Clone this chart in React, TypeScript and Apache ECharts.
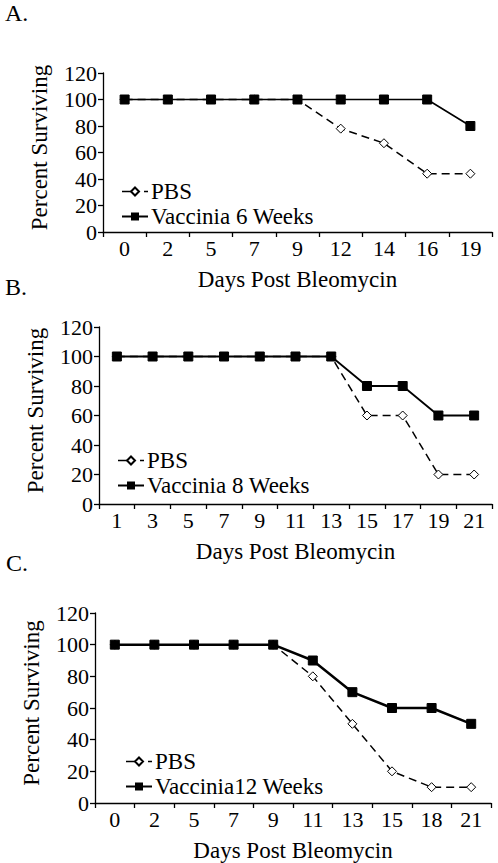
import React, { useEffect, useRef } from "react";
import * as echarts from "echarts";

const daysA = ["0", "2", "5", "7", "9", "12", "14", "16", "19"];
const pbsA = [100, 100, 100, 100, 100, 78, 67, 44, 44];
const vacA = [100, 100, 100, 100, 100, 100, 100, 100, 80];

const daysB = ["1", "3", "5", "7", "9", "11", "13", "15", "17", "19", "21"];
const pbsB = [100, 100, 100, 100, 100, 100, 100, 60, 60, 20, 20];
const vacB = [100, 100, 100, 100, 100, 100, 100, 80, 80, 60, 60];

const daysC = ["0", "2", "5", "7", "9", "11", "13", "15", "18", "21"];
const pbsC = [100, 100, 100, 100, 100, 80, 50, 20, 10, 10];
const vacC = [100, 100, 100, 100, 100, 90, 70, 60, 60, 50];

const yTicks = [0, 20, 40, 60, 80, 100, 120];

const FONT = "Liberation Serif";

export default function App() {
  const ref = useRef<HTMLDivElement>(null);
  useEffect(() => {
    if (!ref.current) return;
    const chart = echarts.init(ref.current, null, { renderer: "svg" });
    const grids = [
      { left: 103, right: 6, top: 73, bottom: 631 },
      { left: 99, right: 6, top: 327, bottom: 359 },
      { left: 95, right: 7, top: 613, bottom: 59 },
    ];
    const cats = [daysA, daysB, daysC];
    const pbs = [pbsA, pbsB, pbsC];
    const vac = [vacA, vacB, vacC];
    const vacNames = ["Vaccinia 6 Weeks", "Vaccinia 8 Weeks", "Vaccinia12 Weeks"];
    const vacWidths = [1.6, 1.8, 2.5];
    const legendPos = [
      { left: 121, top: 180 },
      { left: 117, top: 449 },
      { left: 125, top: 750 },
    ];
    const axisLine = { show: true, lineStyle: { color: "#000", width: 1.3 } };
    const xAxis = cats.map((c, i) => ({
      type: "category",
      gridIndex: i,
      data: c,
      boundaryGap: true,
      axisLine,
      axisTick: { show: true, length: 5, lineStyle: { color: "#000", width: 1.3 } },
      axisLabel: { color: "#000", fontFamily: FONT, fontSize: 22, margin: 5 },
      name: "Days Post Bleomycin",
      nameLocation: "middle",
      nameGap: 36,
      nameTextStyle: { color: "#000", fontFamily: FONT, fontSize: 23 },
    }));
    const yAxis = cats.map((_, i) => ({
      type: "value",
      gridIndex: i,
      min: yTicks[0],
      max: yTicks[yTicks.length - 1],
      interval: 20,
      splitLine: { show: false },
      axisLine,
      axisTick: { show: true, length: 5, lineStyle: { color: "#000", width: 1.3 } },
      axisLabel: { color: "#000", fontFamily: FONT, fontSize: 22, margin: 6 },
      name: "Percent Surviving",
      nameLocation: "middle",
      nameGap: 52,
      nameTextStyle: { color: "#000", fontFamily: FONT, fontSize: 23, padding: [0, 0, 0, 10] },
    }));
    const series: any[] = [];
    cats.forEach((_, i) => {
      series.push({
        name: "PBS",
        type: "line",
        xAxisIndex: i,
        yAxisIndex: i,
        data: pbs[i],
        symbol: "diamond",
        symbolSize: 9,
        showAllSymbol: true,
        lineStyle: { color: "#000", width: 1.5, type: [8, 5] },
        itemStyle: { color: "#fff", borderColor: "#000", borderWidth: 1 },
        z: 2,
      });
      series.push({
        name: vacNames[i],
        type: "line",
        xAxisIndex: i,
        yAxisIndex: i,
        data: vac[i],
        symbol: "rect",
        symbolSize: 9,
        showAllSymbol: true,
        lineStyle: { color: "#000", width: vacWidths[i], type: "solid" },
        itemStyle: { color: "#000", borderColor: "#000" },
        z: 3,
      });
    });
    const legend = cats.map((_, i) => ({
      orient: "vertical",
      left: legendPos[i].left,
      top: legendPos[i].top,
      data: [
        { name: "PBS", lineStyle: { type: [10, 12], width: 1.3 } },
        { name: vacNames[i] },
      ],
      itemWidth: 26,
      itemHeight: 10,
      itemGap: 2,
      padding: 0,
      selectedMode: false,
      textStyle: { color: "#000", fontFamily: FONT, fontSize: 23, padding: [0, 0, 0, -2] },
    }));
    const labelStyle = (t: string) => ({ text: t, fontFamily: FONT, fontSize: 24, fill: "#000" });
    chart.setOption({
      animation: false,
      backgroundColor: "#fff",
      textStyle: { fontFamily: FONT },
      grid: grids,
      xAxis,
      yAxis,
      series,
      legend,
      graphic: [
        { type: "text", left: 5, top: 1, style: labelStyle("A.") },
        { type: "text", left: 5, top: 275, style: labelStyle("B.") },
        { type: "text", left: 6, top: 551, style: labelStyle("C.") },
      ],
    });
    return () => chart.dispose();
  }, []);
  return (
    <div
      ref={ref}
      style={{ position: "fixed", left: 0, top: 0, width: 498, height: 863, background: "#fff" }}
    />
  );
}
